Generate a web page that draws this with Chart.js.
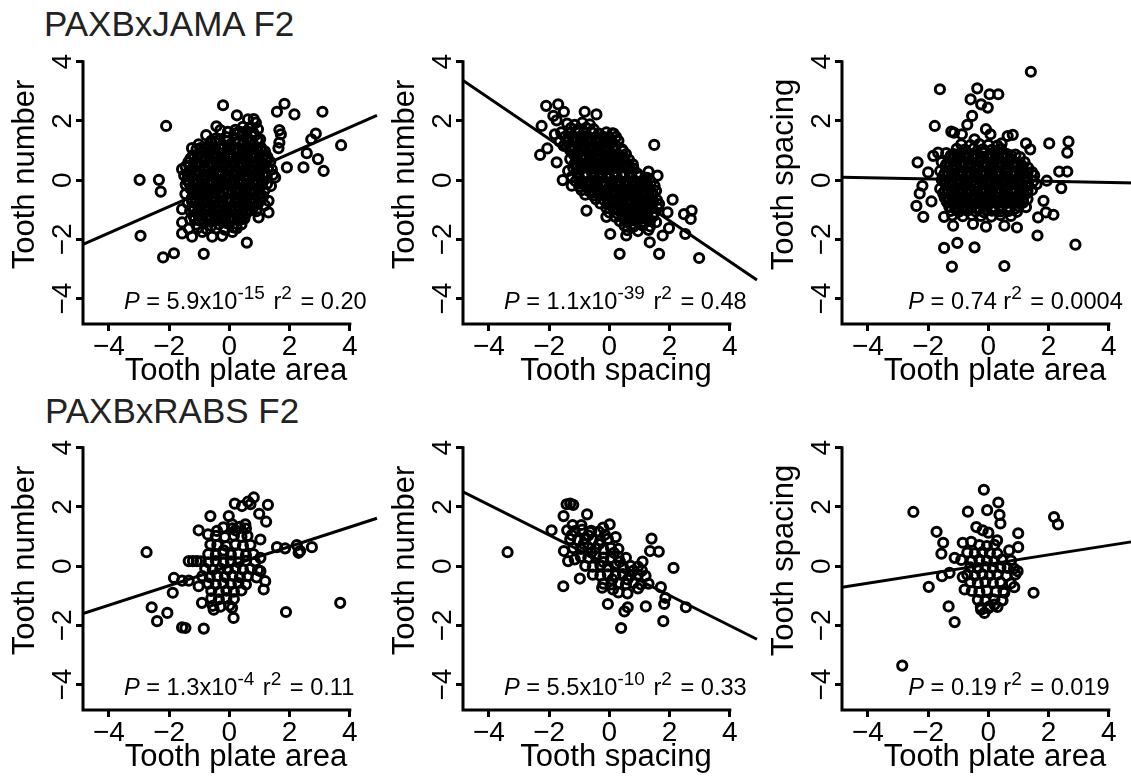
<!DOCTYPE html>
<html>
<head>
<meta charset="utf-8">
<title>Tooth trait correlations in F2 crosses</title>
<script src="https://cdn.jsdelivr.net/npm/chart.js@4.4.0/dist/chart.umd.min.js"></script>
<style>
    html, body { margin: 0; padding: 0; background: #fff; }
    body { width: 1131px; height: 781px; position: relative; overflow: hidden; font-family: "Liberation Sans", Arial, sans-serif; }
    .panel { position: absolute; }
    .heading { position: absolute; font-size: 35px; line-height: 1; color: #222; white-space: nowrap; }
</style>
</head>
<body>
<div class="heading" style="left:44px; top:6px;">PAXBxJAMA F2</div>
<div class="heading" style="left:45px; top:393px;">PAXBxRABS F2</div>

<script>
// Cross names, axis titles and ticks
const crossTitles = ['PAXBxJAMA F2', 'PAXBxRABS F2'];
const xTitles = ['Tooth plate area', 'Tooth spacing', 'Tooth plate area', 'Tooth plate area', 'Tooth spacing', 'Tooth plate area'];
const yTitles = ['Tooth number', 'Tooth number', 'Tooth spacing', 'Tooth number', 'Tooth number', 'Tooth spacing'];
const tickValues = [-4, -2, 0, 2, 4];

// Regression fits and stats text
const fitSlopes = [0.447, -0.69, -0.02, 0.33, -0.51, 0.16];
const fitIntercepts = [0.0, 0.01, 0.0, 0.0, 0.03, 0.06];
const pValues = ['5.9', '1.1', '0.74', '1.3', '5.5', '0.19'];
const pExponents = ['-15', '-39', '', '-4', '-10', ''];
const rSquared = ['0.20', '0.48', '0.0004', '0.11', '0.33', '0.019'];

// PAXBxJAMA: tooth plate area (x) vs tooth number (y)
const jamaAreaVsNumber = [
    [-0.21,2.53],[1.58,2.31],[1.83,2.58],[2.16,2.22],[3.09,2.31],[-2.10,1.83],[1.66,1.69],[1.71,1.55],[1.66,1.27],[1.63,1.08],
    [2.87,1.57],[2.72,1.38],[3.71,1.18],[2.57,0.91],[2.94,0.71],[2.46,0.43],[3.13,0.31],[1.91,0.43],[-2.98,0.01],[-2.34,0.01],
    [-2.28,-0.39],[-2.95,-1.88],[-2.20,-2.61],[-1.84,-2.47],[-0.85,-2.49],[0.58,-2.11],
    [0.25,2.19],[0.62,2.05],[0.81,2.06],[0.88,1.94],
    [-0.43,1.82],[-0.30,1.69],[0.45,1.80],[0.68,1.78],[0.95,1.72],[0.20,1.70],
    [0.33,1.64],[0.57,1.66],[0.78,1.62],[-0.05,1.63],
    [-0.77,1.52],[0.18,1.57],[-0.10,1.45],[0.40,1.50],[0.60,1.44],[0.85,1.51],[1.02,1.38],[-0.46,1.40],
    [-0.60,1.33],[-0.33,1.36],[-0.08,1.31],[0.19,1.37],[0.47,1.34],[0.72,1.30],[0.93,1.36],
    [-1.02,1.21],[-0.71,1.15],[-0.45,1.26],[-0.22,1.19],[0.05,1.22],[0.31,1.25],[0.56,1.14],[0.79,1.21],[1.05,1.10],[-1.24,1.08],
    [-1.09,1.04],[-0.84,1.06],[-0.58,1.02],[-0.33,1.07],[-0.07,1.03],[0.19,1.06],[0.44,1.02],[0.68,1.07],[0.93,1.03],[1.18,0.97],
    [-1.21,0.84],[-0.96,0.91],[-0.69,0.95],[-0.45,0.84],[-0.19,0.90],[0.06,0.86],[0.31,0.96],[0.54,0.89],[0.81,0.84],[1.08,0.99],[1.26,0.79],
    [-1.29,0.73],[-1.05,0.77],[-0.80,0.74],[-0.55,0.76],[-0.30,0.72],[-0.04,0.77],[0.22,0.74],[0.47,0.71],[0.73,0.76],[0.98,0.73],[1.22,0.70],
    [-1.36,0.61],[-1.11,0.54],[-0.84,0.66],[-0.61,0.59],[-0.35,0.55],[-0.09,0.66],[0.16,0.60],[0.41,0.54],[0.66,0.61],[0.91,0.65],[1.15,0.56],[1.36,0.62],
    [-1.45,0.46],[-1.20,0.43],[-0.95,0.47],[-0.70,0.44],[-0.45,0.42],[-0.20,0.47],[0.05,0.43],[0.30,0.46],[0.55,0.42],[0.80,0.47],[1.05,0.44],[1.28,0.41],
    [-1.57,0.37],[-1.31,0.31],[-1.04,0.24],[-0.79,0.35],[-0.55,0.29],[-0.29,0.24],[-0.05,0.36],[0.21,0.29],[0.45,0.26],[0.71,0.34],[0.96,0.30],[1.19,0.24],[1.41,0.36],
    [-1.50,0.16],[-1.25,0.13],[-1.00,0.17],[-0.75,0.14],[-0.50,0.12],[-0.25,0.17],[0.00,0.14],[0.25,0.16],[0.50,0.12],[0.75,0.17],[1.00,0.14],[1.24,0.11],[1.45,0.18],
    [-1.41,0.00],[-1.16,-0.06],[-0.90,0.05],[-0.64,-0.01],[-0.40,-0.05],[-0.15,0.06],[0.11,0.00],[0.35,-0.06],[0.60,0.05],[0.86,0.01],[1.10,-0.05],[1.25,-0.13],[1.52,0.09],
    [-1.45,-0.16],[-1.20,-0.13],[-0.95,-0.17],[-0.70,-0.14],[-0.45,-0.18],[-0.20,-0.13],[0.05,-0.16],[0.30,-0.12],[0.55,-0.17],[0.80,-0.14],[1.05,-0.18],[1.38,-0.20],
    [-1.46,-0.47],[-1.29,-0.29],[-1.05,-0.25],[-0.81,-0.35],[-0.55,-0.31],[-0.30,-0.24],[-0.05,-0.35],[0.20,-0.29],[0.46,-0.25],[0.70,-0.36],[0.95,-0.30],[1.16,-0.35],
    [-1.20,-0.44],[-0.95,-0.47],[-0.70,-0.43],[-0.45,-0.46],[-0.20,-0.42],[0.08,-0.47],[0.33,-0.44],[0.58,-0.46],[0.83,-0.42],[1.12,-0.55],
    [-1.25,-0.61],[-0.99,-0.55],[-0.75,-0.66],[-0.50,-0.59],[-0.24,-0.55],[0.01,-0.65],[0.25,-0.60],[0.50,-0.54],[0.76,-0.65],[1.03,-0.47],[1.30,-0.70],
    [-1.38,-0.78],[-1.10,-0.74],[-0.85,-0.77],[-0.60,-0.73],[-0.35,-0.76],[-0.08,-0.72],[0.18,-0.77],[0.43,-0.74],[0.68,-0.76],[0.95,-0.80],[1.18,-0.85],
    [-1.57,-0.98],[-1.20,-0.90],[-0.95,-0.84],[-0.70,-0.95],[-0.45,-0.90],[-0.19,-0.85],[0.05,-0.96],[0.30,-0.90],[0.55,-0.84],[0.80,-0.91],[1.30,-1.09],
    [-1.30,-1.03],[-1.05,-1.06],[-0.82,-1.02],[-0.57,-1.07],[-0.32,-1.04],[-0.07,-1.06],[0.18,-1.03],[0.43,-1.08],[0.68,-1.02],[0.90,-1.05],
    [-1.19,-1.21],[-0.94,-1.15],[-0.70,-1.25],[-0.45,-1.19],[-0.20,-1.15],[0.06,-1.25],[0.30,-1.20],[0.55,-1.14],[0.97,-1.26],
    [-1.30,-1.33],[-1.00,-1.36],[-0.75,-1.31],[-0.50,-1.37],[-0.25,-1.34],[0.02,-1.36],[0.28,-1.32],[0.50,-1.30],
    [-1.57,-1.43],[-1.10,-1.50],[-0.85,-1.44],[-0.60,-1.55],[-0.35,-1.49],[-0.10,-1.45],[0.14,-1.60],[0.40,-1.50],
    [-1.35,-1.64],[-1.05,-1.62],[-0.75,-1.66],[-0.45,-1.63],[-0.15,-1.67],[0.25,-1.62],
    [-1.57,-1.80],[-1.24,-1.91],[-0.90,-1.75],[-0.57,-1.91],[-0.24,-1.88],[0.10,-1.75],
    [-0.96,1.08],[-0.71,1.09],[-0.46,1.07],[-0.20,1.08],[0.06,1.10],[0.31,1.07],[0.56,1.08],[0.80,1.09],
    [-1.17,0.78],[-0.92,0.79],[-0.67,0.77],[-0.42,0.78],[-0.17,0.80],[0.09,0.77],[0.35,0.78],[0.60,0.79],[0.85,0.77],[1.10,0.78],
    [-1.33,0.48],[-1.08,0.49],[-0.83,0.47],[-0.58,0.48],[-0.33,0.50],[-0.08,0.47],[0.18,0.48],[0.43,0.49],[0.68,0.47],[0.93,0.48],[1.17,0.50],
    [-1.38,0.18],[-1.13,0.19],[-0.88,0.17],[-0.62,0.18],[-0.38,0.20],[-0.12,0.17],[0.13,0.18],[0.38,0.19],[0.62,0.17],[0.88,0.18],[1.12,0.20],
    [-1.32,-0.12],[-1.08,-0.11],[-0.82,-0.13],[-0.58,-0.12],[-0.32,-0.10],[-0.08,-0.13],[0.18,-0.12],[0.42,-0.11],[0.68,-0.13],[0.92,-0.12],
    [-1.08,-0.42],[-0.82,-0.41],[-0.58,-0.43],[-0.32,-0.42],[-0.06,-0.40],[0.20,-0.43],[0.46,-0.42],[0.70,-0.41],[0.96,-0.43],
    [-1.24,-0.72],[-0.98,-0.71],[-0.72,-0.73],[-0.48,-0.72],[-0.22,-0.70],[0.05,-0.73],[0.30,-0.72],[0.56,-0.71],[0.82,-0.73],
    [-1.18,-1.02],[-0.94,-1.01],[-0.70,-1.03],[-0.44,-1.02],[-0.20,-1.00],[0.06,-1.03],[0.30,-1.02],[0.56,-1.01],
    [-1.15,-1.32],[-0.88,-1.31],[-0.62,-1.33],[-0.38,-1.32],[-0.12,-1.30],[0.15,-1.33],[0.40,-1.32]
];

// PAXBxJAMA: tooth spacing (x) vs tooth number (y)
const jamaSpacingVsNumber = [
    [-2.10,2.51],[-1.70,2.56],[-1.51,2.31],[-1.86,2.17],[-1.75,2.02],[-0.82,2.31],[-0.43,2.22],[-2.25,1.83],[-1.81,1.55],[-2.30,0.85],
    [-2.06,1.07],[-1.75,0.60],[-1.55,0.00],[-1.37,0.31],[1.49,1.19],[0.14,1.57],[0.45,0.99],[1.30,0.29],[1.60,0.15],[2.10,-0.66],
    [1.93,-1.09],[2.48,-1.15],[2.73,-1.03],[2.70,-1.31],[1.98,-1.62],[2.52,-1.82],[1.77,-1.87],[1.34,-2.10],[1.65,-2.49],[2.98,-2.63],
    [0.34,-2.49],[0.03,-1.82],[0.56,-1.87],[-0.76,-1.03],[-0.10,-1.24],
    [-1.40,1.91],[-1.15,1.87],[-0.90,1.94],[-0.65,1.88],
    [-1.28,1.76],[-1.02,1.73],[-0.77,1.77],[-0.52,1.72],
    [-1.60,1.61],[-1.35,1.58],[-1.10,1.63],[-0.85,1.59],[-0.60,1.62],[-0.35,1.57],[-0.10,1.61],[0.10,1.58],
    [-1.48,1.46],[-1.22,1.43],[-0.97,1.47],[-0.72,1.44],[-0.47,1.42],[-0.22,1.47],[0.00,1.44],[0.22,1.46],
    [-1.65,1.31],[-1.40,1.28],[-1.15,1.33],[-0.90,1.29],[-0.65,1.32],[-0.40,1.27],[-0.15,1.31],[0.10,1.28],[0.30,1.33],
    [-1.52,1.16],[-1.28,1.13],[-1.02,1.17],[-0.78,1.14],[-0.52,1.12],[-0.27,1.17],[-0.02,1.13],[0.22,1.16],
    [-1.30,1.01],[-1.05,0.98],[-0.80,1.03],[-0.55,0.99],[-0.30,1.02],[-0.05,0.97],[0.20,1.01],[0.42,1.04],
    [-1.18,0.86],[-0.93,0.83],[-0.68,0.87],[-0.43,0.84],[-0.18,0.82],[0.07,0.87],[0.32,0.84],[0.55,0.88],
    [-1.30,0.71],[-1.05,0.68],[-0.80,0.73],[-0.55,0.69],[-0.30,0.72],[-0.05,0.67],[0.20,0.71],[0.45,0.74],[0.65,0.69],
    [-1.15,0.56],[-0.92,0.53],[-0.67,0.57],[-0.42,0.54],[-0.17,0.52],[0.08,0.57],[0.33,0.54],[0.58,0.56],[0.78,0.53],
    [-1.20,0.41],[-0.95,0.38],[-0.70,0.43],[-0.45,0.39],[-0.20,0.42],[0.05,0.37],[0.30,0.41],[0.55,0.44],[0.80,0.39],
    [-1.08,0.26],[-0.83,0.23],[-0.58,0.27],[-0.33,0.24],[-0.08,0.22],[0.17,0.27],[0.42,0.24],[0.67,0.26],[0.92,0.23],
    [-1.25,0.11],[-1.00,0.08],[-0.75,0.13],[-0.50,0.09],[-0.25,0.12],[0.00,0.07],[0.25,0.11],[0.50,0.14],[0.75,0.09],[1.00,0.12],[1.25,0.08],
    [-1.12,-0.04],[-0.88,-0.07],[-0.62,-0.03],[-0.38,-0.06],[-0.12,-0.08],[0.12,-0.03],[0.38,-0.06],[0.62,-0.04],[0.88,-0.07],[1.12,-0.03],[1.38,-0.06],
    [-1.25,-0.19],[-1.00,-0.22],[-0.75,-0.17],[-0.50,-0.21],[-0.25,-0.18],[0.00,-0.23],[0.25,-0.19],[0.50,-0.16],[0.75,-0.21],[1.00,-0.18],[1.25,-0.22],[1.50,-0.19],
    [-0.92,-0.34],[-0.67,-0.37],[-0.42,-0.33],[-0.17,-0.36],[0.08,-0.38],[0.33,-0.33],[0.58,-0.36],[0.83,-0.34],[1.08,-0.37],[1.33,-0.33],[1.55,-0.36],
    [-0.80,-0.49],[-0.55,-0.52],[-0.30,-0.47],[-0.05,-0.51],[0.20,-0.48],[0.45,-0.53],[0.70,-0.49],[0.95,-0.46],[1.20,-0.51],[1.45,-0.48],
    [-0.45,-0.64],[-0.18,-0.67],[0.08,-0.63],[0.33,-0.66],[0.58,-0.68],[0.83,-0.63],[1.08,-0.66],[1.33,-0.64],[1.58,-0.67],
    [-0.30,-0.79],[-0.05,-0.82],[0.20,-0.77],[0.45,-0.81],[0.70,-0.78],[0.95,-0.83],[1.20,-0.79],[1.45,-0.76],[1.65,-0.81],
    [-0.10,-0.94],[0.15,-0.97],[0.40,-0.93],[0.65,-0.96],[0.90,-0.98],[1.15,-0.93],[1.40,-0.96],[1.60,-0.94],
    [0.00,-1.09],[0.25,-1.12],[0.50,-1.07],[0.75,-1.11],[1.00,-1.08],[1.25,-1.13],[1.50,-1.09],
    [0.20,-1.24],[0.45,-1.27],[0.70,-1.23],[0.95,-1.26],[1.20,-1.28],[1.45,-1.23],
    [0.35,-1.39],[0.60,-1.42],[0.85,-1.37],[1.10,-1.41],[1.35,-1.38],[1.55,-1.42],
    [0.50,-1.54],[0.80,-1.57],[1.10,-1.53],[1.35,-1.56],
    [0.60,-1.69],[0.95,-1.72],[1.30,-1.68],
    [-1.35,1.38],[-1.10,1.37],[-0.85,1.39],[-0.60,1.38],[-0.35,1.36],[-0.10,1.39],
    [-1.15,1.08],[-0.90,1.07],[-0.65,1.09],[-0.40,1.08],[-0.15,1.06],[0.10,1.09],
    [-1.10,0.78],[-0.85,0.77],[-0.60,0.79],[-0.35,0.78],[-0.10,0.76],[0.15,0.79],[0.40,0.78],
    [-1.05,0.48],[-0.80,0.47],[-0.55,0.49],[-0.30,0.48],[-0.05,0.46],[0.20,0.49],[0.45,0.48],[0.65,0.47],
    [-1.05,0.18],[-0.80,0.17],[-0.55,0.19],[-0.30,0.18],[-0.05,0.16],[0.20,0.19],[0.45,0.18],[0.70,0.17],[0.95,0.19],
    [-0.95,-0.12],[-0.70,-0.13],[-0.45,-0.11],[-0.20,-0.12],[0.05,-0.14],[0.30,-0.11],[0.55,-0.12],[0.80,-0.13],[1.05,-0.11],[1.25,-0.12],
    [-0.55,-0.42],[-0.30,-0.43],[-0.05,-0.41],[0.20,-0.42],[0.45,-0.44],[0.70,-0.41],[0.95,-0.42],[1.20,-0.43],[1.40,-0.41],
    [-0.05,-0.72],[0.20,-0.73],[0.45,-0.71],[0.70,-0.72],[0.95,-0.74],[1.20,-0.71],[1.45,-0.72],
    [0.30,-1.02],[0.55,-1.03],[0.80,-1.01],[1.05,-1.02],[1.30,-1.04],
    [0.55,-1.32],[0.80,-1.33],[1.05,-1.31],[1.30,-1.32]
];

// PAXBxJAMA: tooth plate area (x) vs tooth spacing (y)
const jamaAreaVsSpacing = [
    [1.41,3.66],[-1.61,3.07],[-0.37,3.10],[-0.59,2.73],[-0.24,2.56],[0.04,2.90],[0.33,2.90],[-0.02,2.45],[-0.54,2.17],[-0.70,1.87],
    [-1.78,1.83],[-1.23,1.64],[-1.14,1.60],[-0.88,1.55],[-0.46,1.38],[-0.08,1.72],[0.07,1.55],[0.64,1.49],[0.81,1.53],[0.44,1.24],
    [1.25,1.24],[1.39,1.04],[2.02,1.24],[2.66,1.30],[2.62,0.93],[2.35,0.29],[2.62,0.29],[1.94,-0.02],[2.42,-0.27],[-2.35,0.60],
    [-2.00,0.26],[-1.83,0.82],[-1.67,0.93],[-2.19,-0.19],[-2.28,-0.45],[-2.39,-0.87],[-1.89,-0.72],[-2.16,-1.24],[-1.47,-1.24],[-1.17,-1.54],
    [-0.51,-1.48],[-0.08,-1.57],[0.53,-1.54],[0.95,-1.60],[1.63,-1.87],[1.83,-0.70],[1.91,-1.09],[2.16,-1.17],[1.65,-1.26],[2.89,-2.18],
    [-1.47,-2.29],[-1.03,-2.12],[-0.46,-2.27],[-1.21,-2.92],[0.53,-2.90],
    [-0.90,1.21],[-0.60,1.18],[-0.30,1.22],[0.00,1.19],[0.30,1.17],
    [-1.05,1.06],[-0.78,1.03],[-0.48,1.07],[-0.18,1.04],[0.12,1.02],[0.42,1.06],
    [-1.40,0.91],[-1.15,0.88],[-0.90,0.92],[-0.65,0.89],[-0.40,0.87],[-0.15,0.92],[0.10,0.88],[0.35,0.91],[0.60,0.89],[0.90,0.86],
    [-1.28,0.76],[-1.02,0.73],[-0.77,0.77],[-0.52,0.74],[-0.27,0.72],[-0.02,0.77],[0.23,0.74],[0.48,0.76],[0.73,0.73],[1.05,0.78],
    [-1.55,0.61],[-1.30,0.58],[-1.05,0.62],[-0.80,0.59],[-0.55,0.57],[-0.30,0.62],[-0.05,0.58],[0.20,0.61],[0.45,0.59],[0.70,0.63],[0.95,0.58],[1.20,0.61],
    [-1.42,0.46],[-1.18,0.43],[-0.92,0.47],[-0.68,0.44],[-0.42,0.42],[-0.18,0.47],[0.08,0.44],[0.32,0.46],[0.58,0.43],[0.82,0.47],[1.08,0.44],[1.32,0.42],
    [-1.60,0.31],[-1.35,0.28],[-1.10,0.32],[-0.85,0.29],[-0.60,0.27],[-0.35,0.32],[-0.10,0.28],[0.15,0.31],[0.40,0.29],[0.65,0.33],[0.90,0.28],[1.15,0.31],[1.45,0.27],
    [-1.48,0.16],[-1.22,0.13],[-0.98,0.17],[-0.72,0.14],[-0.48,0.12],[-0.22,0.17],[0.02,0.14],[0.28,0.16],[0.52,0.13],[0.78,0.17],[1.02,0.14],[1.28,0.12],[1.52,0.16],
    [-1.55,0.01],[-1.30,-0.02],[-1.05,0.02],[-0.80,-0.01],[-0.55,-0.03],[-0.30,0.02],[-0.05,-0.02],[0.20,0.01],[0.45,-0.01],[0.70,0.03],[0.95,-0.02],[1.20,0.01],[1.50,-0.03],
    [-1.42,-0.14],[-1.18,-0.17],[-0.92,-0.13],[-0.68,-0.16],[-0.42,-0.18],[-0.18,-0.13],[0.08,-0.16],[0.32,-0.14],[0.58,-0.17],[0.82,-0.13],[1.08,-0.16],[1.32,-0.18],[1.60,-0.14],
    [-1.60,-0.29],[-1.35,-0.32],[-1.10,-0.28],[-0.85,-0.31],[-0.60,-0.33],[-0.35,-0.28],[-0.10,-0.32],[0.15,-0.29],[0.40,-0.31],[0.65,-0.27],[0.90,-0.32],[1.15,-0.29],[1.45,-0.33],
    [-1.50,-0.44],[-1.22,-0.47],[-0.98,-0.43],[-0.72,-0.46],[-0.48,-0.48],[-0.22,-0.43],[0.02,-0.46],[0.28,-0.44],[0.52,-0.47],[0.78,-0.43],[1.02,-0.46],[1.28,-0.44],
    [-1.45,-0.59],[-1.20,-0.62],[-0.95,-0.58],[-0.70,-0.61],[-0.45,-0.63],[-0.20,-0.58],[0.05,-0.61],[0.30,-0.59],[0.55,-0.62],[0.80,-0.58],[1.05,-0.61],[1.30,-0.64],
    [-1.38,-0.74],[-1.12,-0.77],[-0.88,-0.73],[-0.62,-0.76],[-0.38,-0.78],[-0.12,-0.73],[0.12,-0.76],[0.38,-0.74],[0.62,-0.77],[0.88,-0.73],[1.15,-0.76],
    [-1.30,-0.89],[-1.05,-0.92],[-0.80,-0.88],[-0.55,-0.91],[-0.30,-0.93],[-0.05,-0.88],[0.20,-0.91],[0.45,-0.89],[0.70,-0.92],[1.00,-0.88],[1.25,-0.91],
    [-1.25,-1.04],[-0.98,-1.07],[-0.70,-1.03],[-0.42,-1.06],[-0.15,-1.08],[0.12,-1.03],[0.40,-1.06],[0.68,-1.04],[0.95,-1.07],
    [-1.20,-1.19],[-0.85,-1.22],[-0.55,-1.18],[-0.25,-1.21],[0.10,-1.23],[0.40,-1.18],[0.75,-1.21],
    [-1.25,0.83],[-1.00,0.82],[-0.75,0.84],[-0.50,0.83],[-0.25,0.81],[0.00,0.84],[0.25,0.83],[0.50,0.82],[0.75,0.84],
    [-1.40,0.53],[-1.15,0.52],[-0.90,0.54],[-0.65,0.53],[-0.40,0.51],[-0.15,0.54],[0.10,0.53],[0.35,0.52],[0.60,0.54],[0.85,0.53],[1.10,0.51],
    [-1.45,0.23],[-1.20,0.22],[-0.95,0.24],[-0.70,0.23],[-0.45,0.21],[-0.20,0.24],[0.05,0.23],[0.30,0.22],[0.55,0.24],[0.80,0.23],[1.05,0.21],[1.30,0.24],
    [-1.45,-0.07],[-1.20,-0.08],[-0.95,-0.06],[-0.70,-0.07],[-0.45,-0.09],[-0.20,-0.06],[0.05,-0.07],[0.30,-0.08],[0.55,-0.06],[0.80,-0.07],[1.05,-0.09],[1.30,-0.06],
    [-1.45,-0.37],[-1.20,-0.38],[-0.95,-0.36],[-0.70,-0.37],[-0.45,-0.39],[-0.20,-0.36],[0.05,-0.37],[0.30,-0.38],[0.55,-0.36],[0.80,-0.37],[1.05,-0.39],[1.30,-0.36],
    [-1.30,-0.67],[-1.05,-0.68],[-0.80,-0.66],[-0.55,-0.67],[-0.30,-0.69],[-0.05,-0.66],[0.20,-0.67],[0.45,-0.68],[0.70,-0.66],[0.95,-0.67],[1.15,-0.69],
    [-1.10,-0.97],[-0.85,-0.98],[-0.60,-0.96],[-0.35,-0.97],[-0.10,-0.99],[0.15,-0.96],[0.40,-0.97],[0.65,-0.98],[0.90,-0.96]
];

// PAXBxRABS: tooth plate area (x) vs tooth number (y)
const rabsAreaVsNumber = [
    [-2.75,0.47],[0.18,2.11],[0.42,2.03],[0.62,2.18],[0.81,2.32],[0.70,2.09],[1.28,2.07],[0.99,1.77],[1.22,1.50],[-0.63,1.69],
    [-0.02,1.69],[-1.02,1.21],[-0.71,1.07],[-0.41,1.19],[0.09,1.41],[0.20,1.21],[0.53,1.41],[-0.63,0.73],[-0.19,0.53],[1.03,0.90],
    [1.58,0.64],[1.85,0.60],[2.24,0.71],[2.35,0.51],[2.74,0.64],[2.30,0.45],[3.68,-1.24],[1.88,-1.55],[1.03,0.28],[-1.35,0.17],
    [-1.21,0.17],[-1.08,0.17],[-1.84,-0.40],[-1.57,-0.49],[-1.35,-0.49],[-1.88,-0.90],[-2.58,-1.39],[-2.06,-1.58],[-2.40,-1.86],[-1.57,-2.07],
    [-1.46,-2.09],[-0.85,-2.11],[-0.91,-1.24],[-0.52,-1.47],[0.09,-1.41],[0.14,-1.75],[-1.02,-0.68],[1.14,-0.79],[1.19,-0.51],[1.03,-0.17],
    [-0.20,1.31],[0.10,1.28],[0.35,1.33],[0.55,1.27],
    [-0.45,1.02],[-0.15,0.98],[0.15,1.03],[0.40,0.99],[0.60,1.02],
    [-0.40,0.71],[-0.10,0.68],[0.20,0.73],[0.45,0.69],[0.70,0.72],
    [-0.70,0.41],[-0.45,0.38],[-0.20,0.43],[0.05,0.39],[0.30,0.42],[0.55,0.37],[0.80,0.41],
    [-0.95,0.16],[-0.70,0.13],[-0.45,0.17],[-0.20,0.12],[0.05,0.16],[0.30,0.13],[0.55,0.18],[0.85,0.14],
    [-0.80,-0.09],[-0.55,-0.12],[-0.30,-0.08],[-0.05,-0.11],[0.20,-0.07],[0.45,-0.12],[0.70,-0.09],[0.95,-0.13],
    [-0.90,-0.34],[-0.65,-0.37],[-0.40,-0.33],[-0.15,-0.36],[0.10,-0.32],[0.35,-0.37],[0.60,-0.34],[0.90,-0.38],
    [-0.70,-0.59],[-0.45,-0.62],[-0.20,-0.58],[0.05,-0.61],[0.30,-0.57],[0.55,-0.62],
    [-0.60,-0.84],[-0.35,-0.87],[-0.10,-0.83],[0.15,-0.86],[0.40,-0.82],
    [-0.60,-1.09],[-0.35,-1.12],[-0.10,-1.08],[0.15,-1.11],
    [-0.55,-1.34],[-0.30,-1.37],[0.00,-1.33]
];

// PAXBxRABS: tooth spacing (x) vs tooth number (y)
const rabsSpacingVsNumber = [
    [-3.38,0.47],[-1.42,2.09],[-1.30,2.11],[-1.20,2.07],[-1.52,1.69],[-0.74,1.75],[-1.92,1.21],[-1.22,1.39],[-0.93,1.39],[-0.65,1.16],
    [-0.21,1.30],[0.01,1.41],[0.21,0.98],[-1.51,0.51],[-1.37,0.17],[-1.15,0.23],[-1.53,-0.68],[-0.98,-0.42],[1.40,0.93],[1.35,0.51],
    [1.64,0.49],[1.10,0.15],[1.08,-0.15],[2.13,-0.06],[1.71,-0.71],[1.86,-1.07],[1.82,-1.28],[2.54,-1.39],[1.79,-1.86],[1.21,-1.36],
    [0.61,-1.39],[0.50,-1.53],[0.39,-2.09],[-0.05,-1.28],[-0.24,-0.73],[0.12,-0.79],
    [-1.40,1.21],[-1.15,1.18],[-0.90,1.23],[-0.60,1.19],[-0.35,1.17],
    [-1.25,1.05],[-0.70,1.04],[-0.15,1.06],
    [-1.30,0.91],[-1.05,0.88],[-0.80,0.93],[-0.55,0.89],[-0.30,0.87],[-0.05,0.92],
    [-0.85,0.75],[-0.35,0.74],
    [-1.20,0.61],[-0.95,0.58],[-0.70,0.63],[-0.45,0.59],[-0.20,0.57],[0.05,0.62],[0.30,0.58],
    [-0.60,0.46],[0.15,0.45],
    [-0.95,0.31],[-0.70,0.28],[-0.45,0.33],[-0.20,0.29],[0.05,0.27],[0.30,0.32],[0.55,0.28],
    [-0.20,0.14],[0.35,0.15],
    [-0.80,0.01],[-0.55,-0.02],[-0.30,0.03],[-0.05,-0.01],[0.20,0.02],[0.45,-0.03],[0.70,0.01],[0.95,-0.02],
    [0.80,-0.15],
    [-0.55,-0.29],[-0.30,-0.32],[-0.05,-0.28],[0.20,-0.31],[0.45,-0.27],[0.70,-0.32],[0.95,-0.29],[1.20,-0.33],
    [0.10,-0.45],[0.60,-0.45],
    [-0.20,-0.59],[0.05,-0.62],[0.30,-0.58],[0.55,-0.61],[0.80,-0.57],[1.05,-0.62],[1.30,-0.59],
    [0.95,-0.75],[0.30,-0.89],[0.60,-0.92]
];

// PAXBxRABS: tooth plate area (x) vs tooth spacing (y)
const rabsAreaVsSpacing = [
    [-2.86,-3.36],[-2.49,1.83],[-1.72,1.16],[-1.50,0.79],[-1.56,0.42],[-1.12,0.28],[-1.54,-0.34],[-1.29,-0.23],[-1.98,-0.70],[-1.32,-1.36],
    [-1.12,-1.89],[-0.15,2.58],[-0.68,1.84],[0.33,2.15],[-0.04,1.89],[0.37,1.73],[0.40,1.44],[-0.40,1.32],[-0.19,1.21],[0.00,1.13],
    [0.99,1.11],[0.29,0.87],[-0.85,0.79],[-0.57,0.82],[0.99,0.64],[0.69,0.53],[2.18,1.66],[2.31,1.41],[1.50,-0.90],[0.86,-0.71],
    [0.97,-0.17],[0.64,-0.06],[0.53,-0.90],[0.47,-1.16],[0.20,-1.30],[-0.24,-1.47],[-0.13,-1.58],[0.04,-1.36],[-0.79,-0.79],[-0.85,-0.37],
    [-0.30,0.71],[-0.05,0.68],[0.20,0.72],
    [-0.70,0.46],[-0.45,0.43],[-0.20,0.47],[0.05,0.44],[0.30,0.42],
    [-0.90,0.21],[-0.55,0.18],[-0.30,0.22],[-0.05,0.19],[0.20,0.17],[0.45,0.22],[0.75,0.19],
    [-0.60,-0.04],[-0.35,-0.07],[-0.10,-0.03],[0.15,-0.06],[0.40,-0.04],[0.85,-0.08],
    [-0.70,-0.29],[-0.45,-0.32],[-0.20,-0.28],[0.05,-0.31],[0.30,-0.29],[0.60,-0.33],[0.90,-0.28],
    [-0.60,-0.54],[-0.35,-0.57],[-0.10,-0.53],[0.15,-0.56],[0.40,-0.54],[0.75,-0.58],
    [-0.55,-0.84],[-0.30,-0.87],[-0.05,-0.83],[0.25,-0.86],[0.50,-0.84],
    [-0.35,-1.14],[-0.10,-1.17],[0.20,-1.13],[0.45,-1.16],
    [-0.25,-1.39],[0.00,-1.42],[0.30,-1.38]
];

const panelPoints = [jamaAreaVsNumber, jamaSpacingVsNumber, jamaAreaVsSpacing,
                     rabsAreaVsNumber, rabsSpacingVsNumber, rabsAreaVsSpacing];

// Plot region and where the fitted line ends / stats text sits
const X_MIN = -4.86, X_MAX = 5.3, Y_MIN = -4.86, Y_MAX = 5.24;
const LINE_END = 4.9;
const statX = [-3.5, -3.5, -2.66, -3.5, -3.5, -2.66];
const STAT_Y = -4.36;

const FONT = '"Liberation Sans", Arial, Helvetica, sans-serif';
const colLeft = [0, 380, 759];
const rowTop = [0, 386];

function fmtTick(v) {
    return v < 0 ? '\u2212' + Math.abs(v) : String(v);
}

// L-shaped axes, rotated y tick labels and the P / r2 line
const panelDecor = {
    id: 'panelDecor',
    afterDraw(chart) {
        const ctx = chart.ctx;
        const xs = chart.scales.x, ys = chart.scales.y;
        const i = chart.options.plugins.panelDecor.index;
        const left = xs.getPixelForValue(X_MIN);
        const bottom = ys.getPixelForValue(Y_MIN);

        ctx.save();
        ctx.strokeStyle = '#000';
        ctx.lineWidth = 3;
        ctx.lineJoin = 'miter';
        ctx.beginPath();
        ctx.moveTo(xs.getPixelForValue(4) + 1.5, bottom);
        ctx.lineTo(left, bottom);
        ctx.lineTo(left, ys.getPixelForValue(4) - 1.5);
        ctx.stroke();

        ctx.fillStyle = '#000';
        ctx.font = '28px ' + FONT;
        ctx.textAlign = 'center';
        ctx.textBaseline = 'middle';
        tickValues.forEach(v => {
            ctx.save();
            ctx.translate(left - 20, ys.getPixelForValue(v));
            ctx.rotate(-Math.PI / 2);
            ctx.fillText(fmtTick(v), 0, 0);
            ctx.restore();
        });

        const parts = [{ t: 'P', italic: true }, { t: ' = ' + pValues[i] + (pExponents[i] ? 'x10' : '') }];
        if (pExponents[i]) parts.push({ t: pExponents[i], sup: true });
        parts.push({ t: ' r' }, { t: '2', sup: true }, { t: ' = ' + rSquared[i] });
        let cx = xs.getPixelForValue(statX[i]);
        const by = ys.getPixelForValue(STAT_Y);
        ctx.textAlign = 'left';
        ctx.textBaseline = 'alphabetic';
        parts.forEach(p => {
            ctx.font = (p.italic ? 'italic ' : '') + (p.sup ? '19px ' : '23.6px ') + FONT;
            ctx.fillText(p.t, cx, p.sup ? by - 10 : by);
            cx += ctx.measureText(p.t).width + (p.sup ? 2 : 0);
        });
        ctx.restore();
    }
};

panelPoints.forEach((pts, i) => {
    const row = Math.floor(i / 3), col = i % 3;
    const canvas = document.createElement('canvas');
    canvas.width = 400;
    canvas.height = 395;
    canvas.className = 'panel';
    canvas.style.left = colLeft[col] + 'px';
    canvas.style.top = rowTop[row] + 'px';
    document.body.appendChild(canvas);

    new Chart(canvas.getContext('2d'), {
        type: 'scatter',
        data: {
            datasets: [{
                type: 'line',
                data: [
                    { x: X_MIN, y: fitIntercepts[i] + fitSlopes[i] * X_MIN },
                    { x: LINE_END, y: fitIntercepts[i] + fitSlopes[i] * LINE_END }
                ],
                borderColor: '#000',
                borderWidth: 3,
                pointRadius: 0,
                fill: false,
                order: 0
            }, {
                data: pts.map(p => ({ x: p[0], y: p[1] })),
                pointStyle: 'circle',
                pointRadius: 4.6,
                pointHoverRadius: 4.6,
                pointBorderWidth: 3,
                pointBorderColor: '#000',
                pointBackgroundColor: 'rgba(0,0,0,0)',
                order: 1
            }]
        },
        options: {
            responsive: false,
            animation: false,
            devicePixelRatio: 1,
            layout: { padding: { top: 25, right: 11, bottom: 0, left: 0 } },
            events: [],
            plugins: {
                legend: { display: false },
                tooltip: { enabled: false },
                panelDecor: { index: i }
            },
            scales: {
                x: {
                    type: 'linear',
                    min: X_MIN,
                    max: X_MAX,
                    afterBuildTicks: s => { s.ticks = tickValues.map(v => ({ value: v })); },
                    afterFit: s => { s.height = 71; },
                    border: { display: false },
                    grid: { drawOnChartArea: false, drawTicks: true, tickLength: 7, lineWidth: 3, color: '#000' },
                    ticks: {
                        color: '#000',
                        font: { family: FONT, size: 28, lineHeight: 1 },
                        padding: 2,
                        maxRotation: 0,
                        autoSkip: false,
                        callback: v => fmtTick(v)
                    },
                    title: {
                        display: true,
                        text: xTitles[i],
                        color: '#000',
                        font: { family: FONT, size: 31, lineHeight: 1 },
                        padding: { top: 0, bottom: 8 }
                    }
                },
                y: {
                    type: 'linear',
                    min: Y_MIN,
                    max: Y_MAX,
                    afterBuildTicks: s => { s.ticks = tickValues.map(v => ({ value: v })); },
                    afterFit: s => { s.width = 83; },
                    border: { display: false },
                    grid: { drawOnChartArea: false, drawTicks: true, tickLength: 7, lineWidth: 3, color: '#000' },
                    ticks: { display: false },
                    title: {
                        display: true,
                        text: yTitles[i],
                        color: '#000',
                        font: { family: FONT, size: 31, lineHeight: 1 },
                        padding: { top: 10, bottom: 0 }
                    }
                }
            }
        },
        plugins: [panelDecor]
    });
});
</script>
</body>
</html>
